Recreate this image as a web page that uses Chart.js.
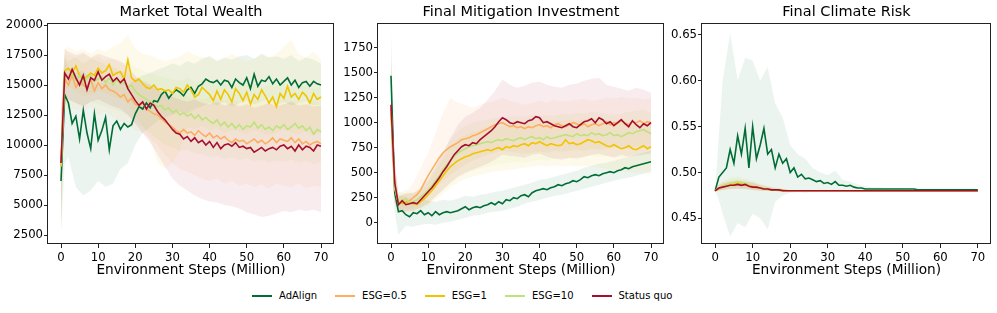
<!DOCTYPE html>
<html lang="en">
<head>
<meta charset="UTF-8">
<title>Market wealth, mitigation and climate risk</title>
<script src="https://cdn.jsdelivr.net/npm/chart.js@4"></script>
<style>
  body { margin: 0; background: #fff; width: 997px; height: 313px; position: relative; overflow: hidden; }
  canvas { position: absolute; top: 0; }
  #legend { position: absolute; left: 252px; top: 290px; display: flex; font: 10px "DejaVu Sans", sans-serif; color: #000; line-height: 12px; }
  #legend .item { display: flex; align-items: center; margin-right: 18px; }
  #legend .swatch { width: 20px; height: 0; border-top: 2px solid; margin-right: 7px; }
</style>
</head>
<body>
<canvas id="wealth" width="334" height="280" style="left:0px"></canvas>
<canvas id="mitigation" width="330" height="280" style="left:334px"></canvas>
<canvas id="risk" width="327" height="280" style="left:664px"></canvas>
<div id="legend"></div>
<script>
// series
const seriesNames = ['AdAlign', 'ESG=0.5', 'ESG=1', 'ESG=10', 'Status quo'];
const seriesColors = ['#006d35', '#fdae61', '#f0c500', '#bde27e', '#a50f2d'];
const bandColors = ['rgba(0,109,53,0.08)', 'rgba(253,174,97,0.1)', 'rgba(240,197,0,0.08)', 'rgba(189,226,126,0.1)', 'rgba(165,15,45,0.08)'];

// environment steps (million)
const steps = [0,1,2,3,4,5,6,7,8,9,10,11,12,13,14,15,16,17,18,19,20,21,22,23,24,25,26,27,28,29,30,31,32,33,34,35,36,37,38,39,40,41,42,43,44,45,46,47,48,49,50,51,52,53,54,55,56,57,58,59,60,61,62,63,64,65,66,67,68,69,70];
const bandSteps = [0,1,2,4,6,8,10,12,14,16,18,20,22,24,26,28,30,32,34,36,38,40,42,44,46,48,50,52,54,56,58,60,62,64,66,68,70];
const xTicks = [0, 10, 20, 30, 40, 50, 60, 70];

// Market Total Wealth
const wealthAdAlign = [7000,14200,13500,11800,12400,10500,12900,11000,9700,12600,10400,11200,12300,9600,11600,12000,11300,11800,11500,11700,12600,13200,13000,13500,13100,13700,13600,14200,14500,13900,14300,14600,14400,14100,14600,14800,14300,14900,15100,15500,15300,15200,15400,15000,15400,15300,14800,15500,15200,15000,15600,14700,15900,14900,15400,15300,15700,15100,15500,15000,15300,15600,15000,15400,14800,15200,15300,14900,15300,15100,15000];
const wealthEsg05 = [8400,15500,15000,15800,14800,15300,15000,14800,15500,14500,15200,14700,15000,14600,14500,14300,14000,14200,13600,13900,13400,13300,13500,13000,12800,12600,12500,12200,11900,11700,11500,11200,11000,11300,11000,11100,10800,11200,10900,10700,11000,10600,10800,10500,10700,10400,10200,10500,10300,10400,10100,10300,10500,10200,10400,10100,10300,10600,10200,10500,10400,10300,10600,10200,10500,10100,10300,10000,10200,10300,10100];
const wealthEsg1 = [8200,16200,16400,16000,16600,15800,15500,15700,16000,15800,16400,16000,16200,16700,15800,16000,16100,15500,17100,15600,15300,15500,15100,14800,14700,15000,14600,14700,14500,14600,14300,14800,14700,14400,15000,14600,14000,14200,14800,14500,14200,13700,14500,13800,14600,14200,13600,14700,14300,13700,14400,13400,14200,13800,14600,14100,13500,14000,13200,14300,13900,14900,14000,14300,13800,14400,14100,13500,14300,13800,14000];
const wealthEsg10 = [8300,16000,15600,16000,15400,15800,15200,15600,15800,15300,15500,15700,15200,15600,15000,15400,15100,15200,14800,15000,14500,14200,14000,13800,13600,13400,13200,13300,12900,13100,12700,12900,12500,12700,12400,12600,12200,12500,12100,12300,12000,11800,12100,11600,11900,11500,11800,11400,11700,11300,11600,11500,11900,11400,11700,11300,11500,11200,11600,11400,11700,11300,11500,11800,11400,11600,11200,11500,10900,11300,11100];
const wealthStatusQuo = [8500,16000,15500,16300,15600,15000,15800,14600,15600,15400,16100,15400,15700,15900,15300,15600,15200,15500,14700,14200,13700,13300,13600,13000,13500,13300,12800,12400,12100,11700,11300,11000,10900,10500,10700,10300,10600,10200,10400,10000,10300,9800,10200,9700,10000,10100,9900,10200,9800,9900,9700,9800,9400,9600,9800,9500,9700,9800,9600,9900,10000,9700,9900,9500,10000,9600,9900,9800,9500,10000,9900];
const wealthAdAlignLo = [2600,8500,9000,6500,5800,6200,7000,6500,6800,8000,8500,10000,11000,11500,12000,12300,12500,12800,12600,13000,13200,13500,13300,13600,13200,13500,13700,13400,13600,13800,13400,13600,13300,13500,13600,13300,13400];
const wealthAdAlignHi = [12000,17200,16500,16000,16200,15500,15000,15500,15000,15200,15000,15500,15800,16000,16300,16500,16800,16600,17000,16800,17200,17400,17000,17300,17100,17400,17500,17200,17600,17300,17400,17200,17500,17000,17300,17100,16800];
const wealthEsg05Lo = [3000,13500,13000,13000,12800,13200,12500,12800,12300,12000,11800,11200,11000,10500,10000,9200,8500,8000,7800,7500,7200,7000,7200,6800,7000,6600,6800,6500,6700,6400,6800,6600,6500,6800,6400,6600,6500];
const wealthEsg05Hi = [12000,17500,17000,17300,16800,17200,17000,16700,16500,16200,16000,15600,15400,15100,14800,14500,14300,14200,14000,13900,13800,14000,13900,13700,13800,13600,13700,13800,13600,13700,13500,13800,13700,13600,13500,13700,13400];
const wealthEsg1Lo = [2500,14500,14800,14500,14000,14200,14500,14300,14000,13800,13500,12500,11500,10500,8500,8000,8500,9500,11500,11300,11600,11200,11400,11000,11200,11100,10900,11200,11000,10800,11000,11300,11000,10900,11100,10800,11000];
const wealthEsg1Hi = [13000,18000,18200,17800,18000,17600,18000,17800,18200,18500,19200,18000,17600,17500,17200,17000,17200,17400,17800,17500,17300,17400,17000,17200,17600,17300,17000,17200,17500,17300,17600,18200,18800,17600,17300,17800,17200];
const wealthEsg10Lo = [3000,14000,13800,13500,13300,13600,13400,13200,13000,12800,12500,12000,11500,11000,10500,10000,9800,9500,9600,9300,9200,9000,9100,8800,9000,8700,8900,8600,8800,8500,8700,8600,8800,8500,8700,8400,8600];
const wealthEsg10Hi = [12000,17800,17500,17300,17600,17200,17400,17000,17200,16800,16900,16500,16200,16000,15800,15600,15500,15400,15600,15300,15400,15200,15000,15200,14900,15100,15000,15300,14800,15000,14900,15100,14800,15000,14900,14700,14800];
const wealthStatusQuoLo = [3500,14000,13800,13500,13200,13600,13800,13500,13200,13000,12500,11800,11000,10200,9200,8200,7200,6600,6200,5800,5500,5300,5200,5000,4900,4700,4400,4200,4000,4100,4300,4500,4400,4600,4500,4600,4400];
const wealthStatusQuoHi = [13000,18000,17800,17500,17700,17300,17600,17400,17200,17000,16500,15800,15300,15000,14600,14300,14000,13800,13600,13800,13500,13400,13600,13300,13500,13200,13400,13100,13300,13500,13200,13400,13600,13300,13400,13200,13300];
const wealthTicks = [2500, 5000, 7500, 10000, 12500, 15000, 17500, 20000];

// Final Mitigation Investment
const mitigationAdAlign = [1470,300,110,120,80,60,100,90,120,80,100,70,110,80,100,110,100,110,120,140,160,130,150,160,150,170,180,200,180,210,190,230,220,250,240,270,280,260,300,320,330,340,330,350,360,380,370,390,400,420,410,430,460,450,470,480,470,490,500,510,500,520,530,550,540,560,570,580,590,600,610];
const mitigationEsg05 = [1150,350,200,210,190,220,250,280,330,400,470,530,590,650,700,730,760,780,800,830,840,850,870,880,900,920,940,960,980,990,1000,980,960,970,950,960,940,960,950,970,980,960,970,950,980,990,970,960,980,1000,990,970,990,960,980,990,970,990,1010,980,1000,990,1020,1000,980,1010,1000,1020,990,1010,1000];
const mitigationEsg1 = [1100,350,200,190,210,200,190,180,210,240,280,320,370,420,470,520,560,590,620,640,660,670,690,700,710,720,730,720,740,750,730,760,750,770,760,780,790,770,800,790,810,790,770,790,780,770,780,830,790,800,780,790,810,830,820,800,810,790,770,760,780,760,740,750,770,740,730,750,770,740,760];
const mitigationEsg10 = [1100,350,200,220,240,200,210,230,260,290,330,370,420,470,530,580,620,660,700,720,740,760,770,780,790,800,810,800,820,830,820,840,830,820,840,850,830,850,860,840,850,830,860,840,850,860,870,880,870,860,890,870,880,870,900,880,890,870,880,900,870,880,860,880,900,890,910,920,930,910,890];
const mitigationStatusQuo = [1180,400,180,220,180,190,200,190,230,270,310,350,400,450,510,560,620,680,720,760,780,770,800,790,830,860,890,920,960,1010,1050,1030,1000,990,1010,1000,990,1020,1030,1060,1050,1000,1010,990,970,960,950,970,990,960,950,980,1010,1020,1040,1000,1050,1030,990,1010,970,1000,1030,990,960,1020,980,950,990,970,1000];
const mitigationAdAlignLo = [1050,100,-120,-30,-40,-20,-10,-20,0,10,30,50,70,80,100,110,120,140,160,190,210,230,250,270,280,300,320,340,360,380,400,420,440,450,470,490,510];
const mitigationAdAlignHi = [1900,600,280,260,230,240,220,210,230,220,240,270,260,280,290,310,320,340,360,380,400,430,440,460,480,500,520,550,570,590,600,620,640,660,680,700,720];
const mitigationEsg05Lo = [800,200,120,120,150,200,280,350,420,480,530,580,620,650,680,700,720,710,700,690,700,710,700,720,710,720,730,720,740,730,740,750,760,740,760,750,760];
const mitigationEsg05Hi = [1600,600,300,300,400,550,700,900,1100,1250,1200,1180,1150,1180,1200,1220,1250,1220,1200,1180,1200,1220,1200,1230,1210,1220,1230,1240,1220,1230,1250,1240,1260,1240,1250,1230,1250];
const mitigationEsg1Lo = [800,200,120,110,100,130,170,230,290,350,400,440,460,480,500,510,520,530,540,550,560,570,560,570,560,570,560,570,560,550,540,530,520,510,500,500,490];
const mitigationEsg1Hi = [1500,550,280,300,290,320,400,520,640,760,840,880,910,930,950,960,970,980,990,1000,1020,1040,1020,1010,1020,1030,1020,1040,1050,1040,1030,1020,1000,990,980,990,980];
const mitigationEsg10Lo = [800,200,130,150,130,160,200,260,330,390,450,490,520,540,560,580,590,600,610,600,620,630,620,640,650,640,660,650,670,660,670,660,650,670,680,690,680];
const mitigationEsg10Hi = [1500,550,300,330,300,370,470,590,720,830,920,970,1000,1020,1030,1050,1050,1060,1070,1060,1080,1070,1080,1070,1090,1080,1100,1090,1110,1100,1090,1080,1090,1110,1120,1130,1100];
const mitigationStatusQuoLo = [750,200,120,110,120,150,190,260,330,400,460,500,530,560,590,630,680,670,660,650,680,690,660,640,630,650,640,660,680,690,670,650,680,660,670,680,700];
const mitigationStatusQuoHi = [1620,650,260,290,300,340,430,560,700,850,980,1060,1100,1150,1230,1320,1430,1380,1350,1370,1400,1410,1380,1360,1350,1380,1390,1420,1440,1450,1380,1360,1340,1320,1350,1330,1300];
const mitigationTicks = [0, 250, 500, 750, 1000, 1250, 1500, 1750];

// Final Climate Risk
const riskAdAlign = [0.480,0.495,0.500,0.505,0.525,0.510,0.540,0.520,0.548,0.505,0.550,0.515,0.530,0.548,0.520,0.525,0.505,0.520,0.510,0.515,0.500,0.505,0.495,0.498,0.493,0.494,0.492,0.490,0.491,0.488,0.489,0.487,0.490,0.486,0.486,0.485,0.486,0.484,0.483,0.483,0.482,0.482,0.482,0.482,0.482,0.482,0.482,0.482,0.482,0.482,0.482,0.482,0.482,0.482,0.481,0.481,0.481,0.481,0.481,0.481,0.481,0.481,0.481,0.481,0.481,0.481,0.481,0.481,0.481,0.481,0.481];
const riskEsg05 = [0.480,0.482,0.484,0.485,0.486,0.486,0.487,0.486,0.486,0.485,0.484,0.483,0.483,0.482,0.482,0.481,0.481,0.481,0.481,0.480,0.480,0.480,0.480,0.480,0.480,0.480,0.480,0.480,0.480,0.480,0.480,0.480,0.480,0.480,0.480,0.480,0.480,0.480,0.480,0.480,0.480,0.480,0.480,0.480,0.480,0.480,0.480,0.480,0.480,0.480,0.480,0.480,0.480,0.480,0.480,0.480,0.480,0.480,0.480,0.480,0.480,0.480,0.480,0.480,0.480,0.480,0.480,0.480,0.480,0.480,0.480];
const riskEsg1 = [0.480,0.483,0.485,0.486,0.487,0.487,0.488,0.488,0.487,0.486,0.485,0.484,0.483,0.482,0.482,0.481,0.481,0.481,0.480,0.480,0.480,0.480,0.480,0.480,0.480,0.480,0.480,0.480,0.480,0.480,0.480,0.480,0.480,0.480,0.480,0.480,0.480,0.480,0.480,0.480,0.480,0.480,0.480,0.480,0.480,0.480,0.480,0.480,0.480,0.480,0.480,0.480,0.480,0.480,0.480,0.480,0.480,0.480,0.480,0.480,0.480,0.480,0.480,0.480,0.480,0.480,0.480,0.480,0.480,0.480,0.480];
const riskEsg10 = [0.480,0.483,0.485,0.487,0.488,0.489,0.490,0.489,0.488,0.486,0.485,0.484,0.483,0.482,0.481,0.481,0.481,0.480,0.480,0.480,0.480,0.480,0.480,0.480,0.480,0.480,0.480,0.480,0.480,0.480,0.480,0.480,0.480,0.480,0.480,0.480,0.480,0.480,0.480,0.480,0.480,0.480,0.480,0.480,0.480,0.480,0.480,0.480,0.480,0.480,0.480,0.480,0.480,0.480,0.480,0.480,0.480,0.480,0.480,0.480,0.480,0.480,0.480,0.480,0.480,0.480,0.480,0.480,0.480,0.480,0.480];
const riskStatusQuo = [0.480,0.483,0.484,0.485,0.486,0.486,0.487,0.486,0.487,0.485,0.484,0.484,0.483,0.482,0.482,0.481,0.481,0.481,0.480,0.480,0.480,0.480,0.480,0.480,0.480,0.480,0.480,0.480,0.480,0.480,0.480,0.480,0.480,0.480,0.480,0.480,0.480,0.480,0.480,0.480,0.480,0.480,0.480,0.480,0.480,0.480,0.480,0.480,0.480,0.480,0.480,0.480,0.480,0.480,0.480,0.480,0.480,0.480,0.480,0.480,0.480,0.480,0.480,0.480,0.480,0.480,0.480,0.480,0.480,0.480,0.480];
const riskAdAlignLo = [0.480,0.470,0.455,0.430,0.445,0.440,0.455,0.450,0.438,0.468,0.475,0.478,0.479,0.478,0.479,0.480,0.480,0.480,0.480,0.480,0.480,0.480,0.480,0.480,0.480,0.480,0.480,0.480,0.480,0.480,0.480,0.480,0.480,0.480,0.480,0.480,0.480];
const riskAdAlignHi = [0.480,0.540,0.600,0.652,0.600,0.625,0.622,0.600,0.615,0.575,0.560,0.530,0.520,0.515,0.505,0.500,0.497,0.502,0.492,0.490,0.487,0.485,0.484,0.484,0.483,0.483,0.483,0.482,0.482,0.482,0.482,0.482,0.482,0.482,0.482,0.482,0.482];
const riskEsg05Lo = [0.480,0.480,0.481,0.482,0.482,0.482,0.481,0.480,0.480,0.480,0.480,0.480,0.480,0.480,0.480,0.480,0.480,0.480,0.480,0.480,0.480,0.480,0.480,0.480,0.480,0.480,0.480,0.480,0.480,0.480,0.480,0.480,0.480,0.480,0.480,0.480,0.480];
const riskEsg05Hi = [0.480,0.486,0.489,0.491,0.492,0.491,0.489,0.487,0.485,0.483,0.482,0.481,0.481,0.481,0.481,0.481,0.481,0.481,0.481,0.481,0.481,0.481,0.481,0.481,0.481,0.481,0.481,0.481,0.481,0.481,0.481,0.481,0.481,0.481,0.481,0.481,0.481];
const riskEsg1Lo = [0.480,0.480,0.481,0.482,0.483,0.482,0.481,0.480,0.480,0.480,0.480,0.480,0.480,0.480,0.480,0.480,0.480,0.480,0.480,0.480,0.480,0.480,0.480,0.480,0.480,0.480,0.480,0.480,0.480,0.480,0.480,0.480,0.480,0.480,0.480,0.480,0.480];
const riskEsg1Hi = [0.480,0.487,0.490,0.493,0.494,0.492,0.490,0.487,0.485,0.483,0.482,0.481,0.481,0.481,0.481,0.481,0.481,0.481,0.481,0.481,0.481,0.481,0.481,0.481,0.481,0.481,0.481,0.481,0.481,0.481,0.481,0.481,0.481,0.481,0.481,0.481,0.481];
const riskEsg10Lo = [0.480,0.480,0.481,0.482,0.483,0.482,0.481,0.480,0.480,0.480,0.480,0.480,0.480,0.480,0.480,0.480,0.480,0.480,0.480,0.480,0.480,0.480,0.480,0.480,0.480,0.480,0.480,0.480,0.480,0.480,0.480,0.480,0.480,0.480,0.480,0.480,0.480];
const riskEsg10Hi = [0.480,0.487,0.491,0.495,0.496,0.494,0.491,0.488,0.485,0.483,0.482,0.481,0.481,0.481,0.481,0.481,0.481,0.481,0.481,0.481,0.481,0.481,0.481,0.481,0.481,0.481,0.481,0.481,0.481,0.481,0.481,0.481,0.481,0.481,0.481,0.481,0.481];
const riskStatusQuoLo = [0.480,0.480,0.481,0.482,0.482,0.482,0.481,0.480,0.480,0.480,0.480,0.480,0.480,0.480,0.480,0.480,0.480,0.480,0.480,0.480,0.480,0.480,0.480,0.480,0.480,0.480,0.480,0.480,0.480,0.480,0.480,0.480,0.480,0.480,0.480,0.480,0.480];
const riskStatusQuoHi = [0.480,0.486,0.488,0.490,0.491,0.490,0.489,0.486,0.484,0.483,0.482,0.481,0.481,0.481,0.481,0.481,0.481,0.481,0.481,0.481,0.481,0.481,0.481,0.481,0.481,0.481,0.481,0.481,0.481,0.481,0.481,0.481,0.481,0.481,0.481,0.481,0.481];
const riskTicks = [0.45, 0.50, 0.55, 0.60, 0.65];

const FONT = '"DejaVu Sans", sans-serif';
Chart.defaults.color = '#000';
Chart.defaults.font.family = FONT;

// box around the plot area, like matplotlib spines
const framePlugin = {
  id: 'frame',
  afterDraw(chart) {
    const { ctx, chartArea: a } = chart;
    ctx.save();
    ctx.strokeStyle = '#222';
    ctx.lineWidth = 1;
    ctx.strokeRect(Math.round(a.left) - 0.5, Math.round(a.top) + 0.5, Math.round(a.right - a.left), Math.round(a.bottom - a.top) - 1);
    ctx.restore();
  }
};

function makeChart(id, title, means, lows, highs, yMin, yMax, yTicks, yFmt, yWidth) {
  const datasets = [];
  means.forEach((vals, i) => {
    datasets.push({
      label: seriesNames[i],
      data: steps.map((x, k) => ({ x: x, y: vals[k] })),
      borderColor: seriesColors[i],
      borderWidth: 1.6,
      pointRadius: 0,
      fill: false,
      order: 4 - i
    });
  });
  means.forEach((vals, i) => {
    datasets.push({
      label: seriesNames[i] + ' hi',
      data: bandSteps.map((x, k) => ({ x: x, y: highs[i][k] })),
      borderColor: 'transparent',
      backgroundColor: bandColors[i],
      pointRadius: 0,
      fill: '+1',
      order: 20 - 2 * i
    });
    datasets.push({
      label: seriesNames[i] + ' lo',
      data: bandSteps.map((x, k) => ({ x: x, y: lows[i][k] })),
      borderColor: 'transparent',
      pointRadius: 0,
      fill: false,
      order: 19 - 2 * i
    });
  });

  return new Chart(document.getElementById(id), {
    type: 'line',
    data: { datasets },
    plugins: [framePlugin],
    options: {
      responsive: false,
      animation: false,
      devicePixelRatio: 1,
      layout: { padding: 0 },
      plugins: {
        legend: { display: false },
        tooltip: { enabled: false },
        title: {
          display: true,
          text: title,
          fullSize: false,
          font: { size: 14.5, weight: 'normal', family: FONT },
          color: '#000',
          padding: { top: 3.6, bottom: 2 }
        }
      },
      scales: {
        x: {
          type: 'linear',
          min: -3.5,
          max: 73.5,
          afterBuildTicks: axis => { axis.ticks = xTicks.map(v => ({ value: v })); },
          afterFit: axis => { axis.height = 36; },
          ticks: { font: { size: 11.7 }, color: '#000', padding: 3, maxRotation: 0, autoSkip: false, callback: v => String(v) },
          grid: { drawOnChartArea: false, drawTicks: true, tickLength: 4, color: '#222' },
          border: { display: false },
          title: {
            display: true,
            text: 'Environment Steps (Million)',
            font: { size: 13.7, family: FONT },
            color: '#000',
            padding: { top: 0, bottom: 1.6 }
          }
        },
        y: {
          min: yMin,
          max: yMax,
          afterBuildTicks: axis => { axis.ticks = yTicks.map(v => ({ value: v })); },
          afterFit: axis => { axis.width = yWidth; },
          ticks: { font: { size: 11.7 }, color: '#000', padding: 1, autoSkip: false, callback: yFmt },
          grid: { drawOnChartArea: false, drawTicks: true, tickLength: 4, color: '#222' },
          border: { display: false }
        }
      }
    }
  });
}

makeChart('wealth', 'Market Total Wealth',
  [wealthAdAlign, wealthEsg05, wealthEsg1, wealthEsg10, wealthStatusQuo],
  [wealthAdAlignLo, wealthEsg05Lo, wealthEsg1Lo, wealthEsg10Lo, wealthStatusQuoLo],
  [wealthAdAlignHi, wealthEsg05Hi, wealthEsg1Hi, wealthEsg10Hi, wealthStatusQuoHi],
  1750, 20170, wealthTicks, v => String(v), 48);

makeChart('mitigation', 'Final Mitigation Investment',
  [mitigationAdAlign, mitigationEsg05, mitigationEsg1, mitigationEsg10, mitigationStatusQuo],
  [mitigationAdAlignLo, mitigationEsg05Lo, mitigationEsg1Lo, mitigationEsg10Lo, mitigationStatusQuoLo],
  [mitigationAdAlignHi, mitigationEsg05Hi, mitigationEsg1Hi, mitigationEsg10Hi, mitigationStatusQuoHi],
  -213, 1997, mitigationTicks, v => String(v), 44);

makeChart('risk', 'Final Climate Risk',
  [riskAdAlign, riskEsg05, riskEsg1, riskEsg10, riskStatusQuo],
  [riskAdAlignLo, riskEsg05Lo, riskEsg1Lo, riskEsg10Lo, riskStatusQuoLo],
  [riskAdAlignHi, riskEsg05Hi, riskEsg1Hi, riskEsg10Hi, riskStatusQuoHi],
  0.422, 0.663, riskTicks, v => v.toFixed(2), 38);

// shared legend under the panels
const legend = document.getElementById('legend');
seriesNames.forEach((name, i) => {
  const item = document.createElement('div');
  item.className = 'item';
  const sw = document.createElement('span');
  sw.className = 'swatch';
  sw.style.borderColor = seriesColors[i];
  const txt = document.createElement('span');
  txt.textContent = name;
  item.appendChild(sw);
  item.appendChild(txt);
  legend.appendChild(item);
});
</script>
</body>
</html>
